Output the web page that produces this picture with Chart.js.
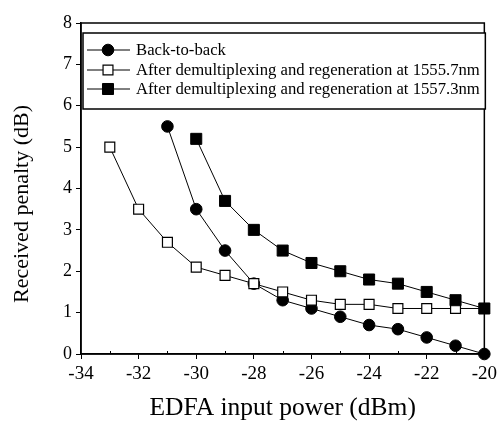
<!DOCTYPE html>
<html>
<head>
<meta charset="utf-8">
<script src="https://cdn.jsdelivr.net/npm/chart.js@4/dist/chart.umd.min.js"></script>
<style>
  html, body { margin: 0; padding: 0; background: #fff; }
  #wrap { position: relative; width: 501px; height: 424px; }
</style>
</head>
<body>
<div id="wrap"><canvas id="c" width="501" height="424"></canvas></div>
<script>
// ---- data ----
const backToBackX = [-31, -30, -29, -28, -27, -26, -25, -24, -23, -22, -21, -20];
const backToBackY = [5.5, 3.5, 2.5, 1.7, 1.3, 1.1, 0.9, 0.7, 0.6, 0.4, 0.2, 0.0];
const regen1555X = [-33, -32, -31, -30, -29, -28, -27, -26, -25, -24, -23, -22, -21, -20];
const regen1555Y = [5.0, 3.5, 2.7, 2.1, 1.9, 1.7, 1.5, 1.3, 1.2, 1.2, 1.1, 1.1, 1.1, 1.1];
const regen1557X = [-30, -29, -28, -27, -26, -25, -24, -23, -22, -21, -20];
const regen1557Y = [5.2, 3.7, 3.0, 2.5, 2.2, 2.0, 1.8, 1.7, 1.5, 1.3, 1.1];
const seriesLabels = [
  'Back-to-back',
  'After demultiplexing and regeneration at 1555.7nm',
  'After demultiplexing and regeneration at 1557.3nm'
];
const xTitle = 'EDFA input power (dBm)';
const yTitle = 'Received penalty (dB)';
const xMin = -34, xMax = -20, yMin = 0, yMax = 8;

const toPts = (xs, ys) => xs.map((x, i) => ({ x: x, y: ys[i] }));
const FONT = '"Liberation Serif", "Times New Roman", serif';

const frameAndLegend = {
  id: 'frameAndLegend',
  afterDatasetsDraw(chart) {
    const ctx = chart.ctx;
    const a = chart.chartArea;
    const xs = chart.scales.x;
    ctx.save();
    // plot frame
    ctx.strokeStyle = '#000';
    ctx.lineWidth = 1.5;
    ctx.strokeRect(a.left, a.top, a.right - a.left, a.bottom - a.top);
    // minor x ticks (inward)
    ctx.lineWidth = 1;
    for (let v = xMin + 1; v < xMax; v += 2) {
      const px = Math.round(xs.getPixelForValue(v)) + 0.5;
      ctx.beginPath();
      ctx.moveTo(px, a.bottom);
      ctx.lineTo(px, a.bottom - 3);
      ctx.stroke();
    }
    // legend box
    const bl = a.left + 2, bt = a.top + 10, br = a.right + 1, bb = a.top + 86;
    ctx.fillStyle = '#fff';
    ctx.fillRect(bl, bt, br - bl, bb - bt);
    ctx.lineWidth = 1.5;
    ctx.strokeRect(bl, bt, br - bl, bb - bt);
    const rows = [bt + 17, bt + 37, bt + 56];
    chart.data.datasets.forEach((ds, i) => {
      const y = rows[i];
      ctx.strokeStyle = '#000';
      ctx.lineWidth = 1;
      ctx.beginPath();
      ctx.moveTo(bl + 4, y);
      ctx.lineTo(bl + 47, y);
      ctx.stroke();
      ctx.fillStyle = ds.pointBackgroundColor;
      ctx.strokeStyle = '#000';
      ctx.lineWidth = ds.pointBorderWidth;
      ctx.beginPath();
      if (ds.pointStyle === 'circle') {
        ctx.arc(bl + 25, y, ds.pointRadius, 0, Math.PI * 2);
      } else {
        const s = Math.SQRT1_2 * ds.pointRadius;
        ctx.rect(bl + 25 - s, y - s, 2 * s, 2 * s);
      }
      ctx.fill();
      ctx.stroke();
      ctx.fillStyle = '#000';
      ctx.font = '16.7px ' + FONT;
      ctx.textBaseline = 'middle';
      ctx.textAlign = 'left';
      ctx.fillText(seriesLabels[i], bl + 53, y + 1);
    });
    // y axis title
    ctx.save();
    ctx.translate(22, 204);
    ctx.rotate(-Math.PI / 2);
    ctx.font = '22px ' + FONT;
    ctx.textAlign = 'center';
    ctx.textBaseline = 'middle';
    ctx.fillStyle = '#000';
    ctx.fillText(yTitle, 0, 0);
    ctx.restore();
    ctx.restore();
  }
};

new Chart(document.getElementById('c'), {
  type: 'line',
  data: {
    datasets: [
      {
        label: seriesLabels[0],
        data: toPts(backToBackX, backToBackY),
        borderColor: '#000', borderWidth: 1,
        pointStyle: 'circle', pointRadius: 5.8,
        pointBackgroundColor: '#000', pointBorderColor: '#000', pointBorderWidth: 1,
        order: 3, clip: false, tension: 0
      },
      {
        label: seriesLabels[1],
        data: toPts(regen1555X, regen1555Y),
        borderColor: '#000', borderWidth: 1,
        pointStyle: 'rect', pointRadius: 7,
        pointBackgroundColor: '#fff', pointBorderColor: '#000', pointBorderWidth: 1.2,
        order: 2, clip: false, tension: 0
      },
      {
        label: seriesLabels[2],
        data: toPts(regen1557X, regen1557Y),
        borderColor: '#000', borderWidth: 1,
        pointStyle: 'rect', pointRadius: 7.8,
        pointBackgroundColor: '#000', pointBorderColor: '#000', pointBorderWidth: 1,
        order: 1, clip: false, tension: 0
      }
    ]
  },
  options: {
    responsive: false,
    animation: false,
    events: [],
    layout: { padding: { top: 23, right: 14, left: 0, bottom: 0 } },
    plugins: { legend: { display: false }, tooltip: { enabled: false } },
    scales: {
      x: {
        type: 'linear', min: xMin, max: xMax,
        afterFit: s => { s.height = 70; },
        border: { display: true, color: '#000', width: 1.5 },
        grid: {
          drawOnChartArea: false, drawTicks: true, tickLength: 5,
          color: c => (c.tick && Math.round(c.tick.value) % 2 === 0) ? '#000' : 'rgba(0,0,0,0)',
          lineWidth: 1
        },
        ticks: {
          stepSize: 1, autoSkip: false, maxRotation: 0, padding: 4,
          color: '#000', font: { family: FONT, size: 19 },
          callback: v => (Math.round(v) % 2 === 0 ? String(v) : '')
        },
        title: {
          display: true, text: xTitle, color: '#000',
          font: { family: FONT, size: 25.5 }, padding: { top: 0, bottom: 0 }
        }
      },
      y: {
        type: 'linear', min: yMin, max: yMax,
        afterFit: s => { s.width = 81; },
        border: { display: true, color: '#000', width: 1.5 },
        grid: { drawOnChartArea: false, drawTicks: true, tickLength: 5, color: '#000', lineWidth: 1 },
        ticks: {
          stepSize: 1, padding: 4, color: '#000',
          font: { family: FONT, size: 18 }
        }
      }
    }
  },
  plugins: [frameAndLegend]
});
</script>
</body>
</html>
